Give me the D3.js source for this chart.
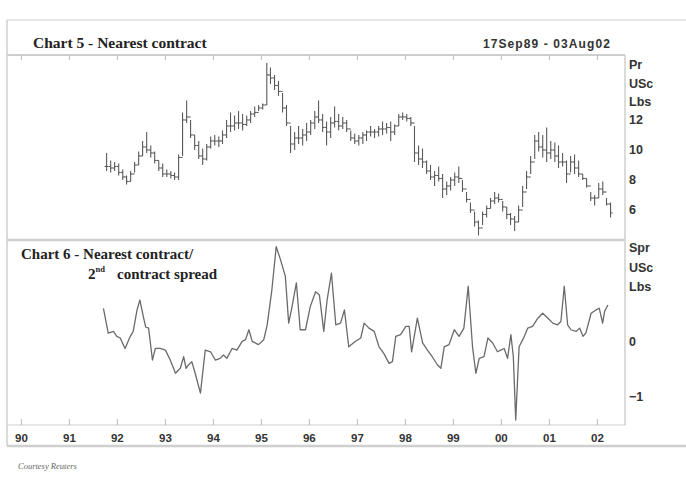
<!DOCTYPE html>
<html>
<head>
<meta charset="utf-8">
<script src="https://cdn.jsdelivr.net/npm/d3@7"></script>
<style>
  html, body { margin: 0; padding: 0; background: #fff; }
  svg { display: block; }
</style>
</head>
<body>
<svg id="chart" width="686" height="479"></svg>
<script>
// ---------- DATA ----------
const dateRange = ["1989-09-17", "2002-08-03"];
const yearTicks = ["90","91","92","93","94","95","96","97","98","99","00","01","02"];
const priceFirstMonth = "1991-09-15";
const priceHigh = [9.8,9.3,9.2,9.1,8.7,8.3,8.6,9.2,9.9,10.6,11.2,10.3,9.9,9.3,9.1,8.7,8.6,8.5,9.7,12.5,
  13.3,12.0,11.0,10.6,10.1,10.4,10.9,11.0,10.9,11.3,12.0,12.5,12.3,12.6,12.4,12.3,12.6,12.9,13.0,13.1,
  15.8,15.5,15.0,14.6,13.8,13.0,11.6,11.2,11.6,11.4,11.8,12.0,12.6,13.3,12.4,11.9,12.2,12.9,12.4,12.2,
  12.0,11.3,11.1,11.0,11.2,11.3,11.6,11.4,11.6,11.9,11.8,11.9,11.7,12.4,12.5,12.4,12.2,11.6,10.3,10.1,
  9.3,9.0,8.6,8.9,8.4,7.9,8.2,8.5,8.9,8.0,7.2,6.5,5.9,5.3,5.9,6.3,6.8,7.2,7.1,6.6,
  6.2,5.8,5.6,6.3,7.6,8.6,9.6,11.0,11.2,11.0,11.5,10.6,10.5,10.3,9.8,9.3,9.6,9.7,9.3,8.4,
  8.1,7.2,7.0,7.8,7.9,6.8,6.5];
const priceLow = [8.6,8.5,8.6,8.3,8.0,7.7,7.9,8.5,9.0,9.6,9.8,9.5,9.1,8.6,8.2,8.2,8.1,8.0,8.0,9.6,
  11.8,10.8,10.0,9.4,9.0,9.3,10.1,10.3,10.2,10.4,10.8,11.2,11.3,11.4,11.3,11.6,11.8,12.2,12.6,12.7,
  13.0,14.4,14.0,13.6,12.5,11.6,9.8,10.0,10.4,10.3,10.6,11.0,11.4,11.8,11.2,10.3,10.8,11.5,11.3,11.4,
  11.2,10.6,10.4,10.3,10.4,10.6,10.9,10.8,10.9,11.0,11.1,10.6,11.0,11.6,12.0,11.9,11.6,9.2,9.0,8.8,
  8.4,8.0,7.6,7.9,6.8,7.0,7.3,7.6,7.8,7.2,6.5,5.8,4.9,4.3,5.0,5.5,6.1,6.4,6.5,5.9,
  5.4,5.0,4.6,5.2,6.2,7.4,8.4,9.4,9.9,9.5,9.2,9.4,9.2,8.8,8.9,7.8,8.5,8.4,8.2,8.0,
  7.5,6.6,6.3,6.8,7.0,6.3,5.5];
const priceClose = [8.9,8.8,8.9,8.5,8.2,7.9,8.4,9.0,9.6,10.2,10.0,9.8,9.3,8.8,8.4,8.4,8.3,8.2,9.5,12.0,
  12.2,11.0,10.3,9.6,9.4,10.2,10.6,10.6,10.6,11.0,11.6,11.6,11.8,11.8,11.7,12.0,12.4,12.5,12.8,13.0,
  15.0,14.8,14.3,13.9,12.8,11.8,10.4,10.8,10.8,11.0,11.2,11.8,12.2,12.0,11.5,11.2,11.8,11.9,11.6,11.8,
  11.4,10.8,10.6,10.8,11.0,11.2,11.2,11.2,11.4,11.4,11.5,11.2,11.6,12.2,12.2,12.1,11.8,9.8,9.4,9.2,
  8.6,8.2,8.3,8.1,7.4,7.6,8.0,8.2,8.1,7.4,6.7,6.0,5.2,4.8,5.7,6.1,6.6,6.8,6.7,6.2,
  5.7,5.4,5.2,6.0,7.2,8.2,9.2,10.6,10.2,10.0,9.8,10.0,9.6,9.2,9.2,8.4,9.2,8.8,8.4,8.1,
  7.6,6.8,6.8,7.4,7.2,6.4,5.8];
const spreadTime = [1991.72,1991.82,1991.93,1992.00,1992.07,1992.17,1992.28,1992.34,1992.42,1992.48,
  1992.55,1992.60,1992.66,1992.74,1992.80,1992.90,1993.01,1993.11,1993.22,1993.32,
  1993.39,1993.44,1993.49,1993.56,1993.63,1993.74,1993.84,1993.95,1994.05,1994.15,
  1994.22,1994.29,1994.40,1994.50,1994.61,1994.68,1994.75,1994.82,1994.95,1995.06,
  1995.13,1995.23,1995.32,1995.41,1995.51,1995.58,1995.65,1995.74,1995.82,1995.93,
  1996.03,1996.14,1996.22,1996.31,1996.38,1996.47,1996.56,1996.66,1996.74,1996.83,
  1996.97,1997.08,1997.15,1997.25,1997.36,1997.46,1997.56,1997.67,1997.74,1997.81,
  1997.91,1998.02,1998.09,1998.14,1998.26,1998.37,1998.47,1998.57,1998.68,1998.75,
  1998.82,1998.92,1999.03,1999.13,1999.23,1999.32,1999.41,1999.48,1999.55,1999.65,
  1999.73,1999.83,1999.93,2000.00,2000.07,2000.14,2000.21,2000.26,2000.31,2000.38,
  2000.49,2000.56,2000.66,2000.77,2000.87,2000.98,2001.08,2001.18,2001.25,2001.32,
  2001.39,2001.46,2001.57,2001.64,2001.71,2001.77,2001.88,2001.98,2002.05,2002.12,
  2002.16,2002.23];
const spreadValue = [0.61,0.16,0.19,0.10,0.07,-0.12,0.10,0.19,0.58,0.76,
  0.46,0.27,0.25,-0.33,-0.12,-0.12,-0.15,-0.33,-0.57,-0.48,
  -0.27,-0.48,-0.42,-0.36,-0.57,-0.93,-0.15,-0.18,-0.33,-0.30,
  -0.24,-0.30,-0.12,-0.15,0.01,0.04,0.22,0.01,-0.05,0.04,
  0.30,0.95,1.73,1.49,1.19,0.34,0.64,1.07,0.22,0.22,
  0.64,0.91,0.85,0.19,0.76,1.25,0.31,0.34,0.58,-0.09,
  0.01,0.07,0.34,0.25,0.19,-0.09,-0.21,-0.39,-0.36,0.10,
  0.13,0.28,0.28,-0.18,0.43,-0.02,-0.15,-0.27,-0.42,-0.48,
  -0.09,-0.05,0.22,0.10,0.25,1.01,-0.09,-0.57,-0.30,-0.27,
  0.07,-0.02,-0.18,-0.15,-0.12,-0.30,0.13,-0.27,-1.42,-0.09,
  0.10,0.25,0.28,0.43,0.52,0.43,0.34,0.31,0.37,1.01,
  0.31,0.22,0.19,0.25,0.10,0.16,0.52,0.58,0.61,0.34,
  0.55,0.67];
const priceTicks = [6, 8, 10, 12];
const priceUnits = ["Pr", "USc", "Lbs"];
const spreadTicks = [0, -1];
const spreadUnits = ["Spr", "USc", "Lbs"];

// ---------- SETUP ----------
const svg = d3.select("#chart");
const frameColor = "#cfcfcf";
const inkColor = "#5a5a5a";
const serif = "'Liberation Serif', 'Times New Roman', serif";
const sans = "'Liberation Sans', Arial, sans-serif";

const L = 7, R = 625, topT = 55, topB = 240, botT = 240, botB = 425, stripB = 446;

const parse = d3.timeParse("%Y-%m-%d");
const x = d3.scaleTime().domain(dateRange.map(parse)).range([L, R]);
const yTop = d3.scaleLinear().domain([4, 16.33]).range([topB, topT]);
const yBot = d3.scaleLinear().domain([-1.51, 1.85]).range([botB, botT]);

const decToDate = d => {
  const y = Math.floor(d);
  const s = new Date(y, 0, 1), e = new Date(y + 1, 0, 1);
  return new Date(+s + (d - y) * (e - s));
};

// ---------- FRAME ----------
const fr = svg.append("g").attr("stroke", frameColor).attr("fill", "none");
fr.append("line").attr("x1", L).attr("x2", 686).attr("y1", 20).attr("y2", 20).attr("stroke-width", 1);
fr.append("line").attr("x1", L).attr("x2", L).attr("y1", 20).attr("y2", stripB).attr("stroke-width", 1.5);
fr.append("line").attr("x1", L).attr("x2", R).attr("y1", topT).attr("y2", topT).attr("stroke-width", 2);
fr.append("line").attr("x1", L).attr("x2", R).attr("y1", topB).attr("y2", topB).attr("stroke-width", 2.5);
fr.append("line").attr("x1", R).attr("x2", R).attr("y1", topT).attr("y2", botB).attr("stroke-width", 1.5);
fr.append("line").attr("x1", L).attr("x2", R).attr("y1", botB).attr("y2", botB).attr("stroke-width", 1);
fr.append("line").attr("x1", L).attr("x2", 686).attr("y1", stripB).attr("y2", stripB).attr("stroke-width", 2.5);

// ---------- TITLES ----------
svg.append("text").attr("x", 33).attr("y", 48)
  .attr("font-family", serif).attr("font-weight", "bold").attr("font-size", 15.5)
  .attr("fill", "#222").text("Chart 5 - Nearest contract");
svg.append("text").attr("x", 611).attr("y", 48).attr("text-anchor", "end")
  .attr("font-family", sans).attr("font-weight", "bold").attr("font-size", 12)
  .attr("letter-spacing", 1.1)
  .attr("fill", "#333").text("17Sep89 - 03Aug02");
svg.append("text").attr("x", 21).attr("y", 259)
  .attr("font-family", serif).attr("font-weight", "bold").attr("font-size", 15)
  .attr("fill", "#222").text("Chart 6 - Nearest contract/");
const t2 = svg.append("text").attr("x", 88).attr("y", 279)
  .attr("font-family", serif).attr("font-weight", "bold").attr("font-size", 15).attr("fill", "#222");
t2.append("tspan").text("2");
t2.append("tspan").attr("font-size", 8.5).attr("dy", -7).text("nd");
t2.append("tspan").attr("x", 117).attr("dy", 7).text("contract spread");

svg.append("text").attr("x", 18).attr("y", 469)
  .attr("font-family", serif).attr("font-style", "italic").attr("font-size", 8.5)
  .attr("fill", "#666").text("Courtesy Reuters");

// ---------- X AXIS ----------
const yearDates = yearTicks.map(t => new Date((+t < 50 ? 2000 : 1900) + (+t), 0, 1));
svg.append("g").attr("transform", `translate(0,${topT})`)
  .call(d3.axisBottom(x).tickValues(yearDates).tickSize(5).tickFormat(""))
  .call(g => g.select(".domain").remove())
  .call(g => g.selectAll("line").attr("stroke", "#bbb"));
svg.append("g").attr("transform", `translate(0,${botB})`)
  .call(d3.axisTop(x).tickValues(yearDates).tickSize(6).tickFormat(""))
  .call(g => g.select(".domain").remove())
  .call(g => g.selectAll("line").attr("stroke", "#bbb"));
svg.append("g").attr("transform", `translate(0,${botB})`)
  .call(d3.axisBottom(x).tickValues(yearDates).tickSize(0).tickPadding(9)
    .tickFormat((d, i) => yearTicks[i]))
  .call(g => g.select(".domain").remove())
  .call(g => g.selectAll("text").attr("font-family", sans).attr("font-weight", "bold")
    .attr("font-size", 11.5).attr("fill", "#333"));

// ---------- RIGHT AXES ----------
const axisText = g => g.selectAll("text").attr("font-family", sans).attr("font-size", 12.5)
  .attr("font-weight", "bold").attr("fill", "#333");
svg.append("g").attr("transform", `translate(${R},0)`)
  .call(d3.axisRight(yTop).tickValues(priceTicks).tickSize(0).tickPadding(4))
  .call(g => g.select(".domain").remove())
  .call(axisText);
svg.append("g").selectAll("text").data(priceUnits).join("text")
  .attr("x", R + 4).attr("y", (d, i) => 69 + i * 18.5)
  .call(axisText.bind(null))
  .text(d => d);

svg.append("g").attr("transform", `translate(${R},0)`)
  .call(d3.axisRight(yBot).tickValues(spreadTicks).tickSize(0).tickPadding(4)
    .tickFormat(d3.format("d")))
  .call(g => g.select(".domain").remove())
  .call(axisText);
svg.append("g").selectAll("text").data(spreadUnits).join("text")
  .attr("x", R + 4).attr("y", (d, i) => 252 + i * 19.5)
  .text(d => d);
svg.selectAll("g").filter(function() { return !this.getAttribute("transform") && !this.getAttribute("stroke"); })
  .selectAll("text").attr("font-family", sans).attr("font-size", 12.5)
  .attr("font-weight", "bold").attr("fill", "#333");

// ---------- PRICE BARS ----------
const months = d3.timeMonth.range(parse(priceFirstMonth), parse("2100-01-01"), 1)
  .slice(0, priceHigh.length).map(d => d3.timeDay.offset(d, 14));
const bars = priceHigh.map((h, i) => ({ date: months[i], high: h, low: priceLow[i], close: priceClose[i] }));
const gb = svg.append("g").attr("stroke", inkColor).attr("stroke-width", 1.1);
gb.selectAll("line.hl").data(bars).join("line").attr("class", "hl")
  .attr("x1", d => x(d.date)).attr("x2", d => x(d.date))
  .attr("y1", d => yTop(d.high)).attr("y2", d => yTop(d.low));
gb.selectAll("line.cl").data(bars).join("line").attr("class", "cl")
  .attr("x1", d => x(d.date)).attr("x2", d => x(d.date) + 2)
  .attr("y1", d => yTop(d.close)).attr("y2", d => yTop(d.close));
gb.selectAll("line.op").data(bars).join("line").attr("class", "op")
  .attr("x1", d => x(d.date) - 2).attr("x2", d => x(d.date))
  .attr("y1", (d, i) => yTop(i > 0 ? priceClose[i - 1] : d.close))
  .attr("y2", (d, i) => yTop(i > 0 ? priceClose[i - 1] : d.close));

// ---------- SPREAD LINE ----------
const spread = spreadTime.map((t, i) => ({ date: decToDate(t), v: spreadValue[i] }));
svg.append("path").datum(spread)
  .attr("fill", "none").attr("stroke", "#6a6a6a").attr("stroke-width", 1.3)
  .attr("stroke-linejoin", "round")
  .attr("d", d3.line().x(d => x(d.date)).y(d => yBot(d.v)));
</script>
</body>
</html>
